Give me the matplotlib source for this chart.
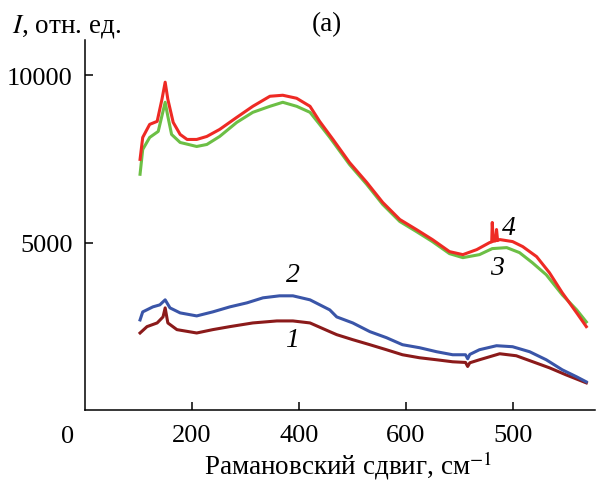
import matplotlib
matplotlib.use("Agg")
import matplotlib.pyplot as plt

plt.rcParams['font.family'] = ['Liberation Serif', 'DejaVu Serif']
plt.rcParams['mathtext.fontset'] = 'stix'

# Curve 4 (red)
x4 = [103, 108, 121, 135, 144, 150, 155, 165, 178, 191, 209, 228, 252, 284, 314, 346, 370, 396,
      421, 439, 464, 495, 527, 557, 589, 620, 650, 682, 707, 733, 757, 761, 762, 764, 768, 770, 772, 776,
      800, 819, 845, 869, 893, 920, 938]
y4 = [7485, 8140, 8530, 8620, 9280, 9790, 9280, 8590, 8230, 8080, 8080, 8170, 8380, 8740, 9070, 9370, 9400, 9310,
      9070, 8620, 8080, 7390, 6800, 6200, 5690, 5390, 5090, 4730, 4640, 4790, 5000, 5020, 5600, 5040, 5050, 5390, 5060, 5090,
      5030, 4880, 4580, 4100, 3500, 2900, 2490]

# Curve 3 (green)
x3 = [103, 108, 121, 137, 150, 155, 162, 178, 209, 228, 252, 284, 314, 346, 370, 396, 421, 439, 458,
      495, 527, 557, 589, 620, 650, 682, 707, 738, 762, 789, 813, 837, 863, 893, 920, 938]
y3 = [7040, 7780, 8140, 8320, 9190, 8770, 8230, 7990, 7870, 7930, 8170, 8590, 8890, 9070, 9190, 9070, 8890, 8530, 8140,
      7330, 6740, 6140, 5630, 5330, 5030, 4670, 4550, 4640, 4820, 4850, 4700, 4400, 4040, 3440, 2990, 2630]

# Curve 2 (blue)
x2 = [103, 108, 127, 140, 150, 159, 178, 209, 239, 271, 303, 333, 364, 389, 421, 458, 471, 501, 533,
      564, 594, 626, 658, 688, 712, 716, 720, 738, 770, 800, 832, 863, 893, 920, 938]
y2 = [2690, 2930, 3080, 3140, 3290, 3050, 2900, 2810, 2930, 3080, 3200, 3350, 3410, 3410, 3290, 2990, 2780, 2600, 2340,
      2160, 1950, 1860, 1740, 1650, 1650, 1530, 1660, 1800, 1920, 1890, 1740, 1500, 1200, 990, 840]

# Curve 1 (dark red)
x1 = [103, 116, 135, 146, 150, 155, 172, 209, 239, 271, 314, 359, 389, 421, 458, 471, 501, 533, 564,
      594, 626, 658, 688, 712, 716, 720, 738, 776, 807, 838, 869, 900, 938]
y1 = [2300, 2490, 2600, 2780, 3050, 2600, 2400, 2300, 2400, 2490, 2600, 2660, 2660, 2600, 2340, 2250, 2100, 1950, 1800,
      1650, 1560, 1500, 1440, 1420, 1300, 1410, 1500, 1680, 1620, 1440, 1260, 1050, 810]

x_ticks = [200, 400, 600, 800]
x_tick_labels = ['200', '400', '600', '500']
y_ticks = [5000, 10000]
y_tick_labels = ['5000', '10000']

fig = plt.figure(figsize=(5.96, 4.81), dpi=100)
ax = fig.add_axes([85/596, 70/481, 1 - 85/596 - 0.001, (411-41)/481])

lw = 2.2
ax.plot(x1, y1, color='#8b1a1a', lw=lw)
ax.plot(x2, y2, color='#3a55a8', lw=lw)
ax.plot(x3, y3, color='#6cbf45', lw=lw)
ax.plot(x4, y4, color='#ee2a24', lw=lw)

ax.set_xlim(0, 955)
ax.set_ylim(0, 11050)
ax.spines['top'].set_visible(False)
ax.spines['right'].set_visible(False)
ax.spines['left'].set_linewidth(1.1)
ax.spines['bottom'].set_linewidth(1.1)

ax.set_xticks(x_ticks)
ax.set_xticklabels(x_tick_labels)
ax.set_yticks(y_ticks)
ax.set_yticklabels(y_tick_labels)
ax.tick_params(direction='in', length=6, width=1.1, labelsize=19, pad=9)
ax.tick_params(axis='x', pad=10)

fig.text(68/596, 1 - 437/481, '0', fontsize=19, ha='center', va='center')

fig.text(348/596, 1 - 466/481, 'Рамановский сдвиг, см$^{-1}$', fontsize=19.5, ha='center', va='center')
fig.text(12/596, 1 - 26/481, '$I$, отн. ед.', fontsize=19.5, ha='left', va='center')
fig.text(327/596, 1 - 25/481, '(a)', fontsize=19.5, ha='center', va='center')

lab_kw = dict(fontsize=20, style='italic', ha='center', va='center')
ax.text(794, 5450, '4', **lab_kw)
ax.text(770, 4250, '3', **lab_kw)
ax.text(389, 4040, '2', **lab_kw)
ax.text(387, 2100, '1', **lab_kw)

fig.savefig('out.png', dpi=100)
